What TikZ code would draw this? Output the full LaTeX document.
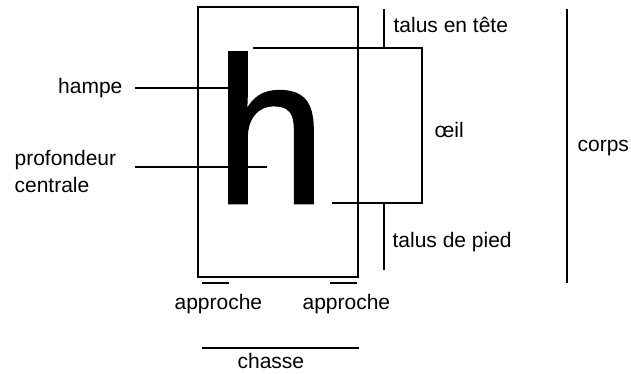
\documentclass[tikz,border=0pt]{standalone}
\usepackage{fontspec}
\setmainfont{Liberation Sans}
\newfontfamily\bigh[FakeBold=1.2]{Liberation Sans}
\begin{document}
\begin{tikzpicture}[x=1pt,y=-1pt,line width=1.2pt,
  lab/.style={font=\fontsize{21}{25}\selectfont, inner sep=0pt},
  ln/.style={line width=1.2pt}]
\useasboundingbox (0,0) rectangle (631,374);
% the letter
\node[anchor=base west, inner sep=0pt, xscale=0.95, font=\bigh\fontsize{208}{208}\selectfont] (h) at (215,203) {h};
% body box
\draw[ln] (198,7) rectangle (358,277);
% labels
\node[lab, anchor=base west] (tete) at (393,33) {talus en tête};
\node[lab, anchor=base east] (hampe) at (123,94) {hampe};
\node[lab, anchor=base west] (prof) at (14,166) {profondeur};
\node[lab, anchor=base west] (cent) at (14,192) {centrale};
\node[lab, anchor=base west] (oeil) at (434,138) {œil};
\node[lab, anchor=base west] (corps) at (577,152) {corps};
\node[lab, anchor=base west] (pied) at (392,247) {talus de pied};
\node[lab, anchor=base west] (appl) at (174,309) {approche};
\node[lab, anchor=base west] (appr) at (302,309) {approche};
\node[lab, anchor=base west] (chasse) at (237,368) {chasse};
% coordinates
\coordinate (hA) at (135,88);  \coordinate (hB) at (228,88);
\coordinate (pA) at (135,167); \coordinate (pB) at (267,167);
\coordinate (o1) at (253,48);  \coordinate (o2) at (422,48);
\coordinate (o3) at (422,203); \coordinate (o4) at (332,203);
\coordinate (t1) at (384,9);   \coordinate (t2) at (384,48);
\coordinate (d1) at (384,203); \coordinate (d2) at (384,270);
\coordinate (c1) at (567,9);   \coordinate (c2) at (567,283);
\coordinate (a1) at (202,283); \coordinate (a2) at (229,283);
\coordinate (a3) at (330,283); \coordinate (a4) at (357,283);
\coordinate (s1) at (202,348); \coordinate (s2) at (359,348);
% lines
\draw[ln] (hA) -- (hB);
\draw[ln] (pA) -- (pB);
\draw[ln] (o1) -- (o2) -- (o3) -- (o4);
\draw[ln] (t1) -- (t2);
\draw[ln] (d1) -- (d2);
\draw[ln] (c1) -- (c2);
\draw[ln] (a1) -- (a2);
\draw[ln] (a3) -- (a4);
\draw[ln] (s1) -- (s2);
\end{tikzpicture}
\end{document}
